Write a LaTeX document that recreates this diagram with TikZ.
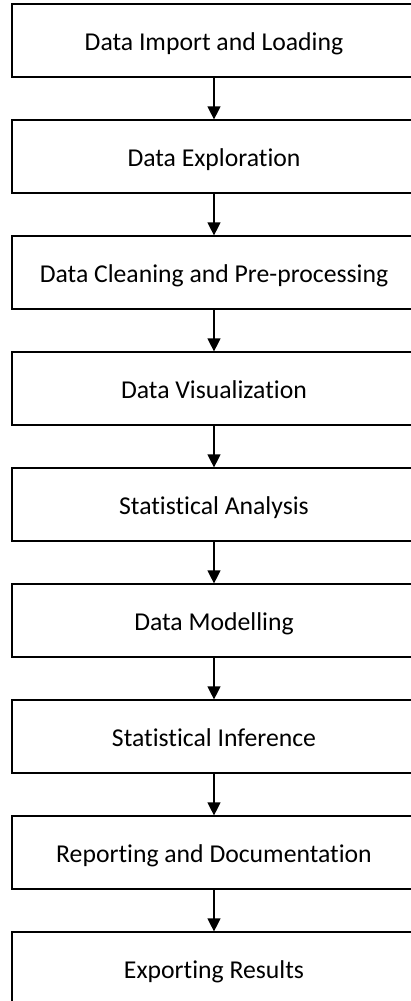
\documentclass[tikz,border=0pt]{standalone}
\usepackage{fontspec}
\setmainfont[Ligatures=NoCommon]{Carlito}
\usetikzlibrary{arrows.meta}
\tikzset{
  stagebox/.style={draw=black, line width=1.2pt, minimum width=404pt, minimum height=73pt, inner sep=0pt, text height=24pt, text depth=4pt, font=\fontsize{25.7pt}{30pt}\selectfont, text=black},
  flowarrow/.style={draw=black, line width=1.2pt, -{Triangle[width=13pt,length=13pt]}}
}
\begin{document}
\begin{tikzpicture}[x=1pt,y=1pt]
\useasboundingbox (0,0) rectangle (411,-1001);
\clip (0,0) rectangle (411,-1001);
\node[stagebox] (s1) at (214,-40.5) {Data Import and Loading};
\node[stagebox] (s2) at (214,-156.5) {Data Exploration};
\node[stagebox] (s3) at (214,-272.5) {Data Cleaning and Pre-processing};
\node[stagebox] (s4) at (214,-388.5) {Data Visualization};
\node[stagebox] (s5) at (214,-504.5) {Statistical Analysis};
\node[stagebox] (s6) at (214,-620.5) {Data Modelling};
\node[stagebox] (s7) at (214,-736.5) {Statistical Inference};
\node[stagebox] (s8) at (214,-852.5) {Reporting and Documentation};
\node[stagebox] (s9) at (214,-968.5) {Exporting Results};
\foreach \a/\b in {s1/s2,s2/s3,s3/s4,s4/s5,s5/s6,s6/s7,s7/s8,s8/s9}
  \draw[flowarrow] (\a.south) -- (\b.north);
\end{tikzpicture}
\end{document}
